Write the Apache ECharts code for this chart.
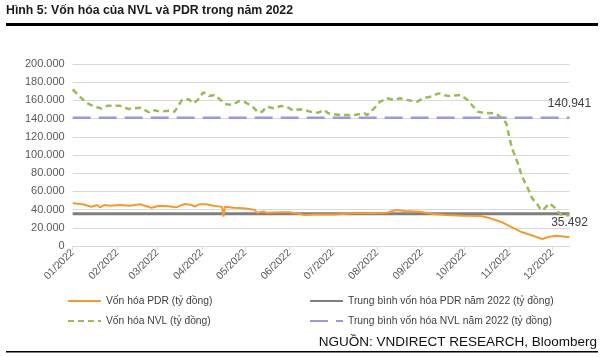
<!DOCTYPE html>
<html>
<head>
<meta charset="utf-8">
<script src="https://cdn.jsdelivr.net/npm/echarts@6/dist/echarts.min.js"></script>
<style>
html,body{margin:0;padding:0;background:#fff;}
#chart{width:602px;height:357px;}
</style>
</head>
<body>
<div id="chart"></div>
<script>
// ---- Data (tỷ đồng) ----
const titleText = 'Hình 5: Vốn hóa của NVL và PDR trong năm 2022';
const sourceText = 'NGUỒN: VNDIRECT RESEARCH, Bloomberg';
const seriesNames = ['Vốn hóa PDR (tỷ đồng)', 'Vốn hóa NVL (tỷ đồng)',
  'Trung bình vốn hóa PDR năm 2022 (tỷ đồng)', 'Trung bình vốn hóa NVL năm 2022 (tỷ đồng)'];
const firstDate = '2022-01-01';
const lastDate = '2022-12-13';

const nvlDates = ['01-01','01-06','01-11','01-15','01-21','01-25','02-03','02-09','02-17','02-23','02-26',
  '03-03','03-09','03-13','03-18','03-23','03-26','03-29','04-02','04-06','04-10','04-14','04-18','04-22','04-27',
  '05-01','05-06','05-10','05-13','05-16','05-21','05-26','05-30','06-04','06-08','06-13','06-17','06-21','06-25','06-28',
  '07-06','07-16','07-23','07-25','07-30','08-03','08-08','08-13','08-17','08-22','08-29','09-02','09-07','09-13','09-16',
  '09-20','09-28','10-03','10-06','10-10','10-14','10-21','10-24','10-27','10-30','11-01','11-03','11-07','11-10','11-14',
  '11-17','11-21','11-23','11-25','11-29','12-02','12-06','12-09','12-13'];
const nvlValues = [172000,164000,157000,154000,151000,154000,154000,150500,152000,147000,149500,
  147600,148700,147600,160400,161200,156800,160400,169000,164800,166000,160400,155700,155000,159300,
  158000,153800,147000,147600,153000,151300,153800,153000,148700,150200,148700,147000,146500,149500,145800,
  144000,144000,145800,144000,151300,158600,162300,160400,162300,160400,158600,162300,164000,167800,166000,
  164800,166000,160400,155000,147600,146500,145800,144000,140300,134800,120000,107400,91000,76000,63400,
  52400,45000,39600,40300,46900,43200,36000,33000,34000];

const pdrDates = ['01-01','01-08','01-14','01-18','01-20','01-23','01-27','02-03','02-10','02-17','02-21','02-25',
  '03-02','03-07','03-14','03-20','03-25','03-27','03-30','04-04','04-09','04-15','04-16','04-17','04-23','04-30',
  '05-05','05-08','05-09','05-14','05-16','05-26','06-01','06-06','06-12','06-18','06-23','07-02','07-16','07-28',
  '08-08','08-14','08-20','08-31','09-09','09-18','09-30','10-12','10-19','10-26','11-02','11-09','11-16','11-24',
  '11-29','12-04','12-13'];
const pdrValues = [46900,45800,43200,45000,42500,45000,44300,45000,44300,45800,44000,42100,
  44300,44000,42500,46200,45000,43200,45800,45800,44300,43000,32200,43200,42100,41400,
  40300,39600,36500,38000,36500,37000,37000,35800,34000,34600,34600,34600,35900,35900,
  36600,39600,38500,37700,35200,34100,33300,33000,30400,26700,21200,15700,12100,7700,
  10200,11300,9600];

const pdrAvg = 35492;
const nvlAvg = 140941;
const yTicks = {min: 0, max: 200000, interval: 20000};

// ---- Build categories (every calendar day) ----
const categories = [];
(function(){
  const d = new Date(Date.UTC(2022,0,1));
  const end = new Date(lastDate + 'T00:00:00Z');
  while (d <= end) {
    categories.push(d.toISOString().slice(0,10));
    d.setUTCDate(d.getUTCDate()+1);
  }
})();
const pair = (dates, vals) => dates.map((m,i)=>['2022-'+m, vals[i]]);
const fmt = v => String(v).replace(/\B(?=(\d{3})+(?!\d))/g, '.');
const isMonthStart = (idx, val) => val.slice(8) === '01';

const FONT = 'Liberation Sans, Arial, sans-serif';
const legendCommon = {orient: 'vertical', top: 295, padding: 0,
  itemWidth: 33, itemHeight: 12, itemGap: 8,
  itemStyle: {opacity: 0},
  textStyle: {fontFamily: FONT, fontSize: 10.3, color: '#404040', lineHeight: 12}};
const avgLabel = (pos, dist) => ({show: true, position: pos, distance: dist,
  formatter: p => fmt(p.value[1]), fontFamily: FONT, fontSize: 12, color: '#404040'});

const chart = echarts.init(document.getElementById('chart'), null, {renderer:'canvas'});
chart.setOption({
  animation: false,
  backgroundColor: '#fff',
  title: {
    text: titleText, left: 6, top: 5, padding: 0,
    textStyle: {fontFamily: FONT, fontSize: 12.3, fontWeight: 'bold', color: '#1a1a1a'}
  },
  grid: {left: 72.7, right: 32.5, top: 64, bottom: 111, containLabel: false},
  legend: [
    Object.assign({data: [seriesNames[0], seriesNames[1]], left: 67}, legendCommon),
    Object.assign({data: [seriesNames[2], seriesNames[3]], left: 309}, legendCommon)
  ],
  xAxis: {
    type: 'category', data: categories, boundaryGap: false,
    axisLine: {lineStyle: {color: '#d9d9d9', width: 1}},
    axisTick: {interval: isMonthStart, length: 4, lineStyle: {color: '#d9d9d9'}},
    axisLabel: {interval: isMonthStart, rotate: 45, margin: 5,
      fontFamily: FONT, fontSize: 10.5, color: '#595959',
      formatter: v => v.slice(5,7) + '/' + v.slice(0,4)},
    splitLine: {show: false}
  },
  yAxis: {
    type: 'value', min: yTicks.min, max: yTicks.max, interval: yTicks.interval,
    axisLine: {show: false}, axisTick: {show: false},
    axisLabel: {fontFamily: FONT, fontSize: 11, color: '#595959', margin: 8, formatter: fmt},
    splitLine: {lineStyle: {color: '#d9d9d9', width: 1}}
  },
  series: [
    {name: seriesNames[0], type: 'line', data: pair(pdrDates, pdrValues), symbol: 'none',
     lineStyle: {color: '#f59a31', width: 2}, itemStyle: {color: '#f59a31'}, z: 4},
    {name: seriesNames[1], type: 'line', data: pair(nvlDates, nvlValues), symbol: 'none',
     lineStyle: {color: '#9bbb59', width: 2.5, type: [6,4]}, itemStyle: {color: '#9bbb59'}, z: 4},
    {name: seriesNames[2], type: 'line', symbol: 'circle', symbolSize: 0, showSymbol: true, z: 3,
     data: [[firstDate, pdrAvg], {value: [lastDate, pdrAvg], label: avgLabel('bottom', 3)}],
     lineStyle: {color: '#7f7f7f', width: 3}, itemStyle: {color: '#7f7f7f'}},
    {name: seriesNames[3], type: 'line', symbol: 'circle', symbolSize: 0, showSymbol: true, z: 3,
     data: [[firstDate, nvlAvg], {value: [lastDate, nvlAvg], label: avgLabel('top', 8)}],
     lineStyle: {color: '#9999dd', width: 2.5, type: [18,8]}, itemStyle: {color: '#9999dd'}}
  ],
  graphic: [
    {type: 'rect', shape: {x: 6, y: 23, width: 592, height: 3}, style: {fill: '#000'}},
    {type: 'rect', shape: {x: 6, y: 351, width: 592, height: 1.5}, style: {fill: '#000'}},
    {type: 'text', right: 5, top: 335, style: {text: sourceText, fontFamily: FONT, fontSize: 13.5, fill: '#111'}}
  ]
});
</script>
</body>
</html>
